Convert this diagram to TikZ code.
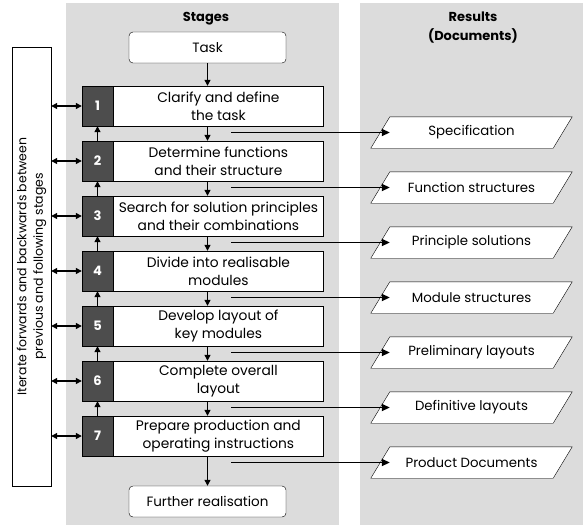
\documentclass[tikz,border=0pt]{standalone}
\usepackage{fontspec}
\setmainfont{Poppins}
\usetikzlibrary{arrows.meta,positioning}

\definecolor{panelgray}{HTML}{DCDCDC}
\definecolor{numgray}{HTML}{4D4D4D}

\tikzset{
  stagebox/.style={draw, fill=white, minimum width=210pt, minimum height=40pt,
                   align=center, inner sep=1pt, font=\fontsize{13.8}{18}\selectfont},
  numbox/.style={draw, fill=numgray, text=white, minimum width=31pt,
                 minimum height=40pt, font=\fontsize{13}{15}\selectfont\bfseries},
  endbox/.style={draw, fill=white, rounded corners=4pt, minimum width=157pt,
                 minimum height=31pt, font=\fontsize{13.5}{15}\selectfont},
  docbox/.style={fill=white, minimum width=163pt, minimum height=31pt,
                 inner sep=0pt, font=\fontsize{13.3}{15}\selectfont},
  flow/.style={-{Triangle[length=6pt,width=6pt]}, line width=1.2pt},
  result/.style={-{Triangle[length=8pt,width=7pt]}, line width=1.8pt},
  both/.style={{Triangle[length=6pt,width=6pt]}-{Triangle[length=6pt,width=6pt]}, line width=1.2pt}
}

\begin{document}
\begin{tikzpicture}[x=1pt, y=-1pt]
  \useasboundingbox (0,0) rectangle (585,527);
  % Panels
  \fill[panelgray] (66,3) rectangle (339,525);
  \fill[panelgray] (360,3) rectangle (583,525);
  \node[font=\fontsize{13}{15}\selectfont\bfseries] (hstage) at (206,19) {Stages};
  \node[font=\fontsize{13}{19}\selectfont\bfseries, align=center] (hres) at (473,28) {Results\\(Documents)};
  % Start and end
  \node[endbox] (task) at (207.5,47.5) {Task};
  \node[endbox] (further) at (207.5,501.5) {Further realisation};
  % Iteration box
  \node[draw, fill=white, rotate=90, minimum width=439pt, minimum height=39pt,
        inner sep=1pt, align=center, font=\fontsize{12.5}{16.5}\selectfont] (iter) at (31.5,266.5)
        {Iterate forwards and backwards between\\previous and following stages};
  % Stages
  \foreach \txt [count=\k] in {{Clarify and define\\the task},
      {Determine functions\\and their structure},
      {Search for solution principles\\and their combinations},
      {Divide into realisable\\modules},
      {Develop layout of\\key modules},
      {Complete overall\\layout},
      {Prepare production and\\operating instructions}} {
    \node[numbox] (n\k) at (97.5,{106+55*(\k-1)}) {\k};
    \node[stagebox, right=0pt of n\k] (s\k) {\txt};
    \draw[both] (iter.south |- n\k.west) -- (n\k.west);
  }
  % Results (parallelograms round the text nodes)
  \foreach \doc [count=\k] in {Specification, Function structures,
      Principle solutions, Module structures, Preliminary layouts,
      Definitive layouts, Product Documents} {
    \node[docbox] (d\k) at (471.5,{132.5+55*(\k-1)}) {\doc};
    \fill[white] (d\k.north west) -- (d\k.south west) -- ([xshift=-19pt]d\k.south west) -- cycle
                 (d\k.north east) -- ([xshift=19pt]d\k.north east) -- (d\k.south east) -- cycle;
    \draw ([xshift=-19pt]d\k.south west) -- (d\k.north west)
          -- ([xshift=19pt]d\k.north east) -- (d\k.south east) -- cycle;
    \coordinate (o\k) at (231,{132.5+55*(\k-1)});
    \draw[result] (o\k) -- (d\k.west);
  }
  % Flow between stages
  \draw[flow] (task) -- (s1.north -| task);
  \foreach \k [evaluate=\k as \j using int(\k+1)] in {1,...,6} {
    \draw[flow] (s\k.south -| task) -- (s\j.north -| task);
    \draw[flow] (n\j) -- (n\k);
  }
  \draw[flow] (s7.south -| task) -- (further);
\end{tikzpicture}
\end{document}
